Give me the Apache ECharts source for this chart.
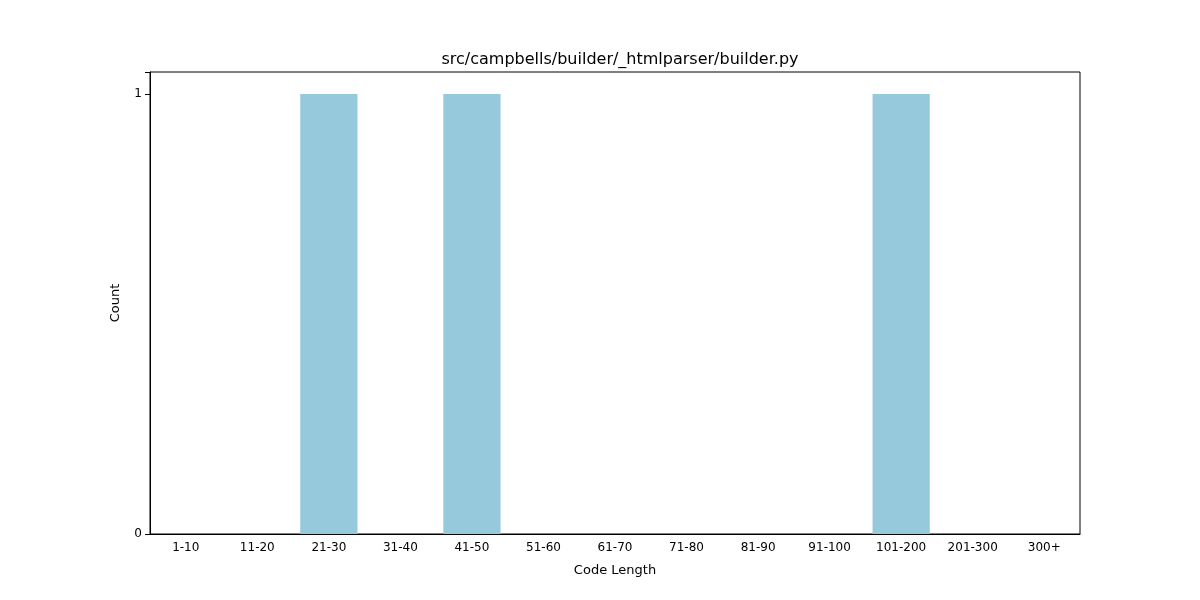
<!DOCTYPE html>
<html>
<head>
<meta charset="utf-8">
<script src="https://cdn.jsdelivr.net/npm/echarts@6/dist/echarts.min.js"></script>
<style>html,body{margin:0;padding:0;background:#fff}#chart{width:1200px;height:600px}</style>
</head>
<body>
<div id="chart"></div>
<script>
const categories = ['1-10','11-20','21-30','31-40','41-50','51-60','61-70','71-80','81-90','91-100','101-200','201-300','300+'];
const counts = [0,0,1,0,1,0,0,0,0,0,1,0,0];
const yTicks = [0, 1];

const chart = echarts.init(document.getElementById('chart'));
const font = 'DejaVu Sans';
chart.setOption({
  animation: false,
  title: {
    text: 'src/campbells/builder/_htmlparser/builder.py',
    left: 615, top: 47, textAlign: 'center',
    textStyle: {fontFamily: font, fontSize: 16, fontWeight: 'normal', color: '#000'}
  },
  grid: {left: 150, right: 120, top: 72, bottom: 66, show: true, borderColor: '#000', borderWidth: 1},
  xAxis: {
    type: 'category', data: categories,
    name: 'Code Length', nameLocation: 'middle', nameGap: 30,
    nameTextStyle: {fontFamily: font, fontSize: 13, color: '#000'},
    axisLine: {lineStyle: {color: '#000'}},
    axisTick: {alignWithLabel: true, lineStyle: {color: '#000'}},
    axisLabel: {fontFamily: font, fontSize: 12, color: '#000', interval: 0}
  },
  yAxis: {
    type: 'value', min: 0, max: 1.05, interval: 1,
    name: 'Count', nameLocation: 'middle', nameGap: 28,
    nameTextStyle: {fontFamily: font, fontSize: 13, color: '#000'},
    axisLine: {show: true, lineStyle: {color: '#000'}},
    axisTick: {show: true, lineStyle: {color: '#000'}},
    splitLine: {show: false},
    axisLabel: {fontFamily: font, fontSize: 12, color: '#000',
      formatter: v => yTicks.includes(v) ? String(v) : ''}
  },
  series: [{type: 'bar', data: counts, barWidth: '80%', itemStyle: {color: '#96c9dc'}}]
});
</script>
</body>
</html>
